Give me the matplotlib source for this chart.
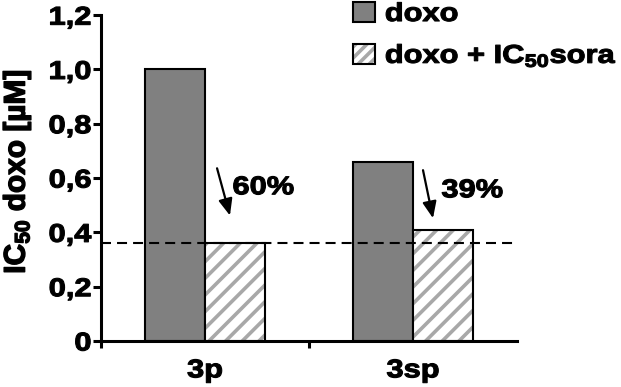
import matplotlib
matplotlib.use("Agg")
import matplotlib.pyplot as plt
from matplotlib.patches import Patch
from matplotlib.legend_handler import HandlerTuple
from matplotlib.patheffects import AbstractPathEffect
from matplotlib.transforms import Affine2D

plt.rcParams['font.family'] = ['Liberation Sans', 'DejaVu Sans']
plt.rcParams['font.weight'] = 'bold'
plt.rcParams['mathtext.fontset'] = 'custom'
plt.rcParams['mathtext.rm'] = 'Liberation Sans:bold'
plt.rcParams['mathtext.bf'] = 'Liberation Sans:bold'
plt.rcParams['mathtext.it'] = 'Liberation Sans:bold'
plt.rcParams['hatch.linewidth'] = 2.6


class HeavyText(AbstractPathEffect):
    """Widen text glyphs horizontally around an anchor and thicken strokes."""

    def __init__(self, sx=1.0, anchor='left', stroke=0.8):
        super().__init__()
        self.sx = sx
        self.anchor = anchor
        self.stroke = stroke

    def draw_path(self, renderer, gc, tpath, affine, rgbFace=None):
        bb = tpath.get_extents(affine)
        x0 = {'left': bb.x0, 'right': bb.x1,
              'center': 0.5 * (bb.x0 + bb.x1)}[self.anchor]
        t = affine + Affine2D().translate(-x0, 0).scale(self.sx, 1).translate(x0, 0)
        gc0 = renderer.new_gc()
        gc0.copy_properties(gc)
        gc0.set_linewidth(self.stroke)
        gc0.set_joinstyle('round')
        renderer.draw_path(gc0, tpath, t, rgbFace)
        gc0.restore()


FS = 18.5
SX = 1.2
BAR_GRAY = '#808080'
HATCH_GRAY = '#a8a8a8'

# Data
categories = ['3p', '3sp']
doxo = [1.00, 0.66]
doxo_sora = [0.36, 0.41]
reductions = ['60%', '39%']
reference_level = 0.36
y_ticks = [0, 0.2, 0.4, 0.6, 0.8, 1.0, 1.2]
y_tick_labels = ['0', '0,2', '0,4', '0,6', '0,8', '1,0', '1,2']

fig = plt.figure(figsize=(6.21, 3.87), dpi=100)
ax = fig.add_axes([0.1626, 0.1189, 0.670, 0.842])

w = 0.29
x = list(range(len(categories)))
ax.bar([i - w / 2 for i in x], doxo, width=w, color=BAR_GRAY,
       edgecolor='black', linewidth=1.5, zorder=2)
# hatched fill in gray, then a black outline on top
ax.bar([i + w / 2 for i in x], doxo_sora, width=w, color='white',
       edgecolor=HATCH_GRAY, linewidth=0, hatch='//', zorder=2)
ax.bar([i + w / 2 for i in x], doxo_sora, width=w, fill=False,
       edgecolor='black', linewidth=1.5, zorder=2.5)

ax.axhline(reference_level, color='black', linewidth=1.5,
           dashes=(4.8, 2.9), zorder=3)

# Arrows and percentage labels
arrow_geom = [((0.058, 0.636), (0.120, 0.462), (0.133, 0.566)),
              ((1.048, 0.629), (1.096, 0.452), (1.137, 0.555))]
for (start, end, txt), lab in zip(arrow_geom, reductions):
    ax.annotate('', xy=end, xytext=start,
                arrowprops=dict(arrowstyle='-|>,head_length=1.0,head_width=0.42',
                                color='black', lw=1.6, shrinkA=0, shrinkB=0))
    ax.text(txt[0], txt[1], lab, fontsize=FS, fontweight='bold',
            ha='left', va='center', path_effects=[HeavyText(SX, 'left')])

ax.set_xlim(-0.5, 1.5)
ax.set_ylim(0, 1.2)
ax.spines['top'].set_visible(False)
ax.spines['right'].set_visible(False)
for s in ('left', 'bottom'):
    ax.spines[s].set_linewidth(2.2)

ax.set_yticks(y_ticks)
ax.set_yticklabels(y_tick_labels, fontsize=FS, fontweight='bold')
ax.tick_params(axis='y', length=5.5, width=2.2, pad=1.5)

ax.set_xticks([-0.5, 0.5])
ax.set_xticklabels([])
ax.set_xticks(x, minor=True)
ax.set_xticklabels(categories, minor=True, fontsize=FS, fontweight='bold')
ax.tick_params(axis='x', which='major', length=5, width=2.2)
ax.tick_params(axis='x', which='minor', length=0, pad=12.5)

for t in ax.get_yticklabels():
    t.set_path_effects([HeavyText(SX, 'right')])
for t in ax.get_xticklabels(minor=True):
    t.set_path_effects([HeavyText(SX, 'center')])

ax.set_ylabel(r'IC$_{\mathrm{50}}$ doxo [µM]', fontsize=21.5, fontweight='bold',
              va='baseline', path_effects=[HeavyText(1.0, 'center', 1.0)])
ax.yaxis.set_label_coords(-0.183, 0.52)

solid = Patch(facecolor=BAR_GRAY, edgecolor='black', linewidth=1.5)
hatched = (Patch(facecolor='white', edgecolor=HATCH_GRAY, linewidth=0, hatch='///'),
           Patch(fill=False, edgecolor='black', linewidth=1.5))
labels = ['doxo', r'doxo + IC$_{\mathrm{50}}$sora']
leg = fig.legend([solid, hatched], labels, loc='upper left',
                 bbox_to_anchor=(338 / 621, 1.035),
                 handler_map={tuple: HandlerTuple(ndivide=1, pad=0)},
                 frameon=False, handlelength=0.85, handleheight=0.85,
                 handletextpad=0.38, labelspacing=0.62, borderpad=0.1,
                 prop={'weight': 'bold', 'size': FS})
for t in leg.get_texts():
    t.set_path_effects([HeavyText(SX, 'left')])

fig.savefig('out.png', dpi=100)
